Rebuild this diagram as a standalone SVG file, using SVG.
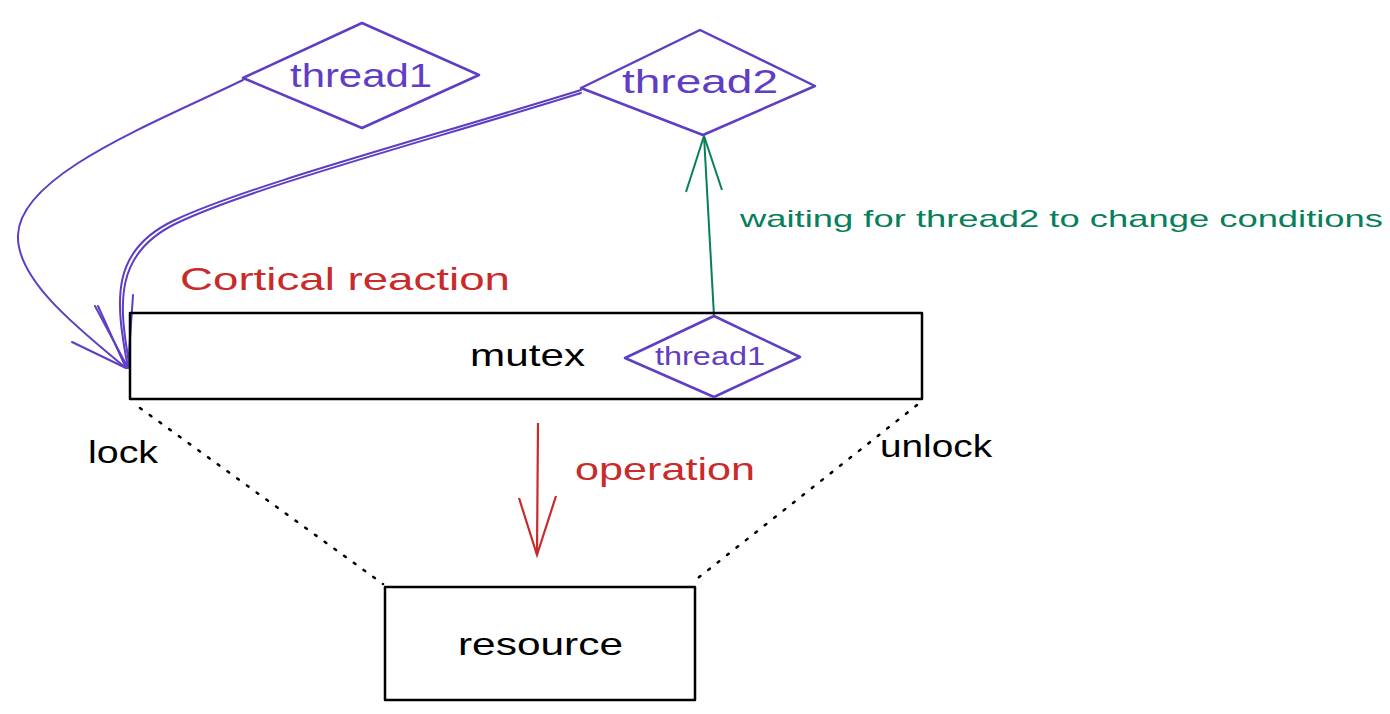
<svg xmlns="http://www.w3.org/2000/svg" width="1390" height="714" viewBox="0 0 1390 714">
<defs>
<style>
text{font-family:"Liberation Sans","DejaVu Sans",sans-serif;}
.box{fill:none;stroke:#000;stroke-width:2.5;stroke-linejoin:round}
.dia{fill:#fff;stroke:#5f3dc4;stroke-width:2.5;stroke-linejoin:round}
.pl{fill:none;stroke:#5f3dc4;stroke-width:2;stroke-linecap:round}
.dot{fill:none;stroke:#000;stroke-width:2.5;stroke-dasharray:2 10;stroke-linecap:round}
.t-black{fill:#000;font-size:32px}
.t-purple{fill:#5f3dc4}
.t-red{fill:#c92a2a;font-size:32px}
.t-green{fill:#087f5b;font-size:24px}
</style>
</defs>
<rect width="1390" height="714" fill="#fff"/>
<g id="connectors">
<path class="pl" d="M243 80 C150 125 20 175 18 235 C16 280 80 330 126 368"/>
<path class="pl" d="M72 342 L126 368 M98 306 L126 368"/>
<path class="pl" d="M581 90 C420 140 250 185 175 220 C110 250 115 300 128 368"/>
<path class="pl" d="M581 93 C420 143 250 188 177 223 C114 253 118 303 130 368"/>
<path class="pl" d="M133 295 L128 368 M95 306 L128 368"/>
<path d="M714 316 L704 136" fill="none" stroke="#087f5b" stroke-width="2"/>
<path d="M686 192 L704 136 L722 190" fill="none" stroke="#087f5b" stroke-width="2"/>
<path d="M538 423 L537 555" fill="none" stroke="#c92a2a" stroke-width="2.2"/>
<path d="M519 498 L537 555 L556 496" fill="none" stroke="#c92a2a" stroke-width="2.2"/>
<path class="dot" d="M140 408 L383 584"/>
<path class="dot" d="M917 405 L698 578"/>
</g>
<g id="mutex">
<rect class="box" x="130" y="313" width="792" height="86"/>
<text class="t-black" x="470" y="366" textLength="115" lengthAdjust="spacingAndGlyphs">mutex</text>
</g>
<g id="thread1-top">
<path class="dia" d="M243 78 L362 23 L479 75 L362 128 Z"/>
<text class="t-purple" x="290" y="87" font-size="34" textLength="142" lengthAdjust="spacingAndGlyphs">thread1</text>
</g>
<g id="thread2">
<path class="dia" d="M581 88 L700 30 L815 86 L703 135 Z"/>
<text class="t-purple" x="622" y="93" font-size="34" textLength="156" lengthAdjust="spacingAndGlyphs">thread2</text>
</g>
<g id="thread1-inner">
<path class="dia" d="M625 358 L714 316 L800 357 L714 397 Z"/>
<text class="t-purple" x="655" y="365" font-size="26" textLength="110" lengthAdjust="spacingAndGlyphs">thread1</text>
</g>
<g id="resource">
<rect class="box" x="385" y="587" width="310" height="113"/>
<text class="t-black" x="458" y="655" textLength="165" lengthAdjust="spacingAndGlyphs">resource</text>
</g>
<g id="labels">
<text class="t-red" x="180" y="290" textLength="330" lengthAdjust="spacingAndGlyphs">Cortical reaction</text>
<text class="t-red" x="575" y="480" textLength="180" lengthAdjust="spacingAndGlyphs">operation</text>
<text class="t-green" x="740" y="227" textLength="643" lengthAdjust="spacingAndGlyphs">waiting for thread2 to change conditions</text>
<text class="t-black" x="88" y="463" textLength="70" lengthAdjust="spacingAndGlyphs">lock</text>
<text class="t-black" x="880" y="457" textLength="112" lengthAdjust="spacingAndGlyphs">unlock</text>
</g>
</svg>
